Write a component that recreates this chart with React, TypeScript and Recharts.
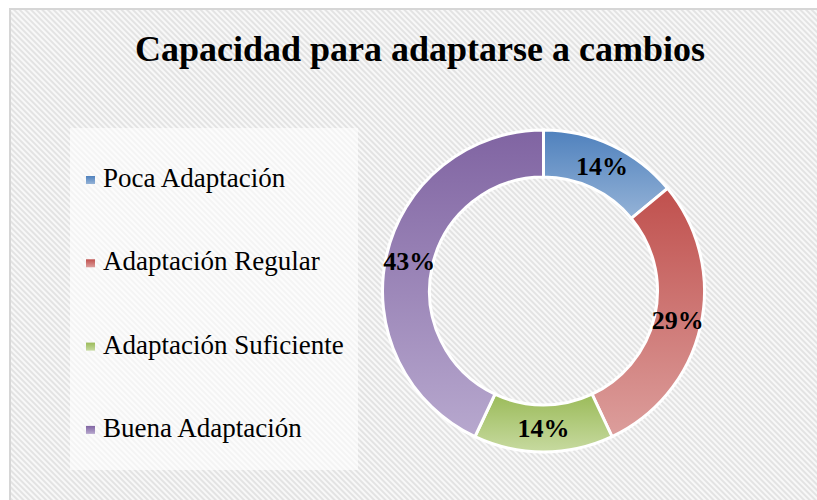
import { PieChart, Pie, Cell, Legend } from "recharts";

const categories = [
  "Poca Adaptación",
  "Adaptación Regular",
  "Adaptación Suficiente",
  "Buena Adaptación",
];
const percents = [14, 29, 14, 43];

const topColors = ["#4F81BD", "#C0504D", "#9BBB59", "#8064A2"];
const bottomColors = ["#95B3D7", "#DC9E9C", "#C7DAA0", "#B7A8CE"];

const data = categories.map((name, i) => ({ name, value: percents[i] }));

const RADIAN = Math.PI / 180;
const SERIF = "Liberation Serif";

// label sits in the middle of the ring
const renderLabel = (props: any) => {
  const { cx, cy, midAngle, innerRadius, outerRadius, value } = props;
  const r = (innerRadius + outerRadius) / 2;
  const x = cx + r * Math.cos(-midAngle * RADIAN);
  const y = cy + r * Math.sin(-midAngle * RADIAN);
  return (
    <text
      x={x}
      y={y}
      textAnchor="middle"
      dominantBaseline="central"
      style={{ fontFamily: SERIF, fontWeight: "bold", fontSize: 26 }}
      fill="#000"
    >
      {`${value}%`}
    </text>
  );
};

const renderLegend = () => (
  <svg width={288} height={342} style={{ display: "block" }}>
    <rect x={0} y={0} width={288} height={342} fill="#ffffff" fillOpacity={0.6} />
    {categories.map((name, i) => {
      const base = 59 + i * 83.3;
      return (
        <g key={name}>
          <rect x={16} y={base - 11} width={9} height={8} fill={`url(#lg${i})`} />
          <text x={33} y={base} style={{ fontFamily: SERIF, fontSize: 27 }} fill="#000">
            {name}
          </text>
        </g>
      );
    })}
  </svg>
);

export default function App() {
  return (
    <div style={{ position: "absolute", left: 0, top: 0 }}>
      <PieChart width={817} height={500} margin={{ top: 0, right: 0, bottom: 0, left: 0 }}>
        <defs>
          <pattern
            id="hatch"
            width={4}
            height={4}
            patternUnits="userSpaceOnUse"
            patternTransform="rotate(45)"
          >
            <rect width={4} height={4} fill="#f8f8f8" />
            <rect width={4} height={2} fill="#e3e3e3" />
          </pattern>
          {topColors.map((c, i) => (
            <linearGradient key={c} id={`lg${i}`} x1="0" y1="0" x2="0" y2="1">
              <stop offset="0%" stopColor={c} />
              <stop offset="100%" stopColor={bottomColors[i]} />
            </linearGradient>
          ))}
        </defs>
        <rect x={0} y={0} width={817} height={500} fill="#ffffff" />
        <rect
          x={10}
          y={9}
          width={830}
          height={520}
          fill="url(#hatch)"
          stroke="#d6d6d6"
          strokeWidth={2}
        />
        <text
          x={420}
          y={61}
          textAnchor="middle"
          style={{ fontFamily: SERIF, fontWeight: "bold", fontSize: 36 }}
          fill="#000"
        >
          Capacidad para adaptarse a cambios
        </text>
        <Pie
          data={data}
          dataKey="value"
          nameKey="name"
          cx={543.5}
          cy={291}
          innerRadius={114}
          outerRadius={161}
          startAngle={90}
          endAngle={-270}
          stroke="#ffffff"
          strokeWidth={3}
          label={renderLabel}
          labelLine={false}
          isAnimationActive={false}
        >
          {data.map((d, i) => (
            <Cell key={d.name} fill={`url(#lg${i})`} />
          ))}
        </Pie>
        <Legend
          content={renderLegend}
          wrapperStyle={{ left: 70, top: 128, width: 288, height: 342 }}
        />
      </PieChart>
    </div>
  );
}
